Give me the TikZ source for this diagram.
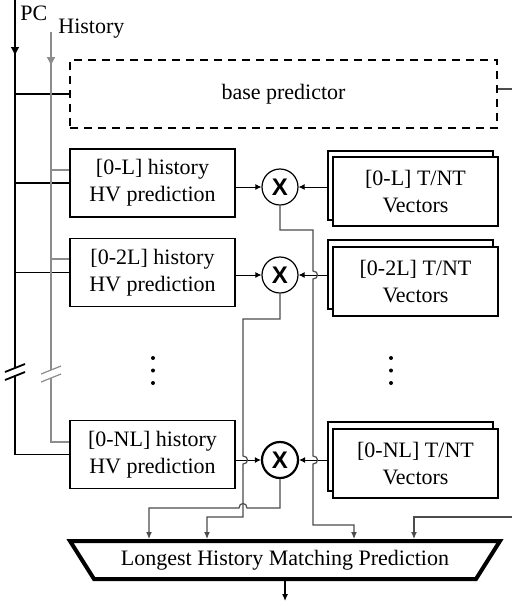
\documentclass[tikz,border=0pt]{standalone}
\usepackage{fontspec}
\setmainfont{Liberation Serif}
\setsansfont{Liberation Sans}
\usepackage{tikz}
\usetikzlibrary{arrows.meta}
\usetikzlibrary{shapes.geometric}
\tikzstyle{hvbox}=[draw, fill=white, line width=0.6pt, minimum width=82.5pt, minimum height=34pt, align=center, inner sep=1pt]
\tikzstyle{vecbox}=[hvbox, minimum height=34.5pt]
\tikzstyle{mult}=[circle, draw, fill=white, line width=0.6pt, minimum size=18pt, inner sep=0pt, font=\sffamily\bfseries\fontsize{12}{12}\selectfont]
\tikzstyle{pcline}=[line width=0.9pt, black]
\tikzstyle{histline}=[line width=0.6pt, black!45]
\tikzstyle{inwire}=[line width=0.5pt, black, -{Latex[length=3pt,width=3pt]}]
\tikzstyle{outwire}=[line width=0.6pt, black!70, -{Latex[length=3.5pt,width=3pt]}]

\begin{document}
\begin{tikzpicture}[x=0.5pt, y=-0.5pt, font=\fontsize{11}{13.5}\selectfont]
	\useasboundingbox (0,0) rectangle (512,606);
	\clip (0,0) rectangle (512,606);
	\node[anchor=west, inner sep=1pt] (pclab) at (18,13) {PC};
	\node[anchor=west, inner sep=1pt] (histlab) at (56,29) {History};
	\node[draw, dash pattern=on 4pt off 3pt, line width=0.7pt, minimum width=213.5pt, minimum height=34pt] (base) at (283.5,94) {base predictor};
	\node[hvbox] (h1) at (152.5,183) {[0-L] history\\HV prediction};
	\node[hvbox] (h2) at (152.5,272.5) {[0-2L] history\\HV prediction};
	\node[hvbox] (h3) at (152.5,454.5) {[0-NL] history\\HV prediction};
	\node[vecbox] (v1b) at (410.5,185.5) {};
	\node[vecbox] (v1) at (415.5,191.5) {[0-L] T/NT\\Vectors};
	\node[vecbox] (v2b) at (410.5,274.5) {};
	\node[vecbox] (v2) at (415.5,281.5) {[0-2L] T/NT\\Vectors};
	\node[vecbox] (v3b) at (410.5,456.5) {};
	\node[vecbox] (v3) at (415.5,463.5) {[0-NL] T/NT\\Vectors};
	\node[mult] (m1) at (280,187) {X};
	\node[mult] (m2) at (280,275) {X};
	\node[mult, line width=1.1pt] (m3) at (280,460) {X};
	\node[trapezium, shape border rotate=180, trapezium angle=45, trapezium stretches body, draw, line width=2pt, minimum width=215pt, minimum height=19pt, inner sep=1pt] (lhmp) at (285,560) {Longest History Matching Prediction};
	\foreach \yy in {358,370.5,383} {
		\fill (153,\yy) circle (1pt);
		\fill (391,\yy) circle (1pt);
	}
	\draw[pcline, -{Latex[length=4.5pt,width=4.5pt]}] (15,0) -- (15,56);
	\draw[pcline] (15,50) -- (15,368);
	\draw[pcline] (15,376) |- (h3.west);
	\draw[pcline] (5,372) -- (25,364);
	\draw[pcline] (5,380) -- (25,372);
	\draw[pcline] (15,94) -- (base.west);
	\draw[pcline] (15,183) -- (h1.west);
	\draw[pcline] (15,272.5) -- (h2.west);
	\draw[histline, -{Latex[length=4.5pt,width=4.5pt]}] (51,32) -- (51,66);
	\draw[histline] (51,60) -- (51,370);
	\draw[histline] (51,378) |- (h3.west |- 51,442);
	\draw[histline] (41,374) -- (61,366);
	\draw[histline] (41,382) -- (61,374);
	\draw[histline] (51,170) -- (h1.west |- 51,170);
	\draw[histline] (51,259) -- (h2.west |- 51,259);
	\draw[inwire] (h1.east |- m1) -- (m1);
	\draw[inwire] (h2.east |- m2) -- (m2);
	\draw[inwire] (h3.east |- m3) -- (m3);
	\draw[inwire] (v1b.west |- m1) -- (m1);
	\draw[inwire] (v2b.west |- m2) -- (m2);
	\draw[inwire] (v3b.west |- m3) -- (m3);
	\draw[outwire] (m1.south) |- (313,230) -- (313,271) .. controls (319,271) and (319,279) .. (313,279) -- (313,456) .. controls (319,456) and (319,464) .. (313,464) |- (354,525) -- (354,525 |- lhmp.north);
	\draw[outwire] (m2.south) |- (243,319) -- (243,456) .. controls (249,456) and (249,464) .. (243,464) |- (207,517) -- (207,517 |- lhmp.north);
	\draw[outwire] (m3.south) |- (247,508) .. controls (247,502) and (239,502) .. (239,508) -- (149,508) -- (149,508 |- lhmp.north);
	\draw[outwire] ([yshift=2.5pt]base.east) -- (540,89) |- (414,517) -- (414,517 |- lhmp.north);
	\draw[line width=0.6pt, -{Latex[length=3.5pt,width=3pt]}] (lhmp.south) -- (lhmp.south |- 0,601);
\end{tikzpicture}
\end{document}
